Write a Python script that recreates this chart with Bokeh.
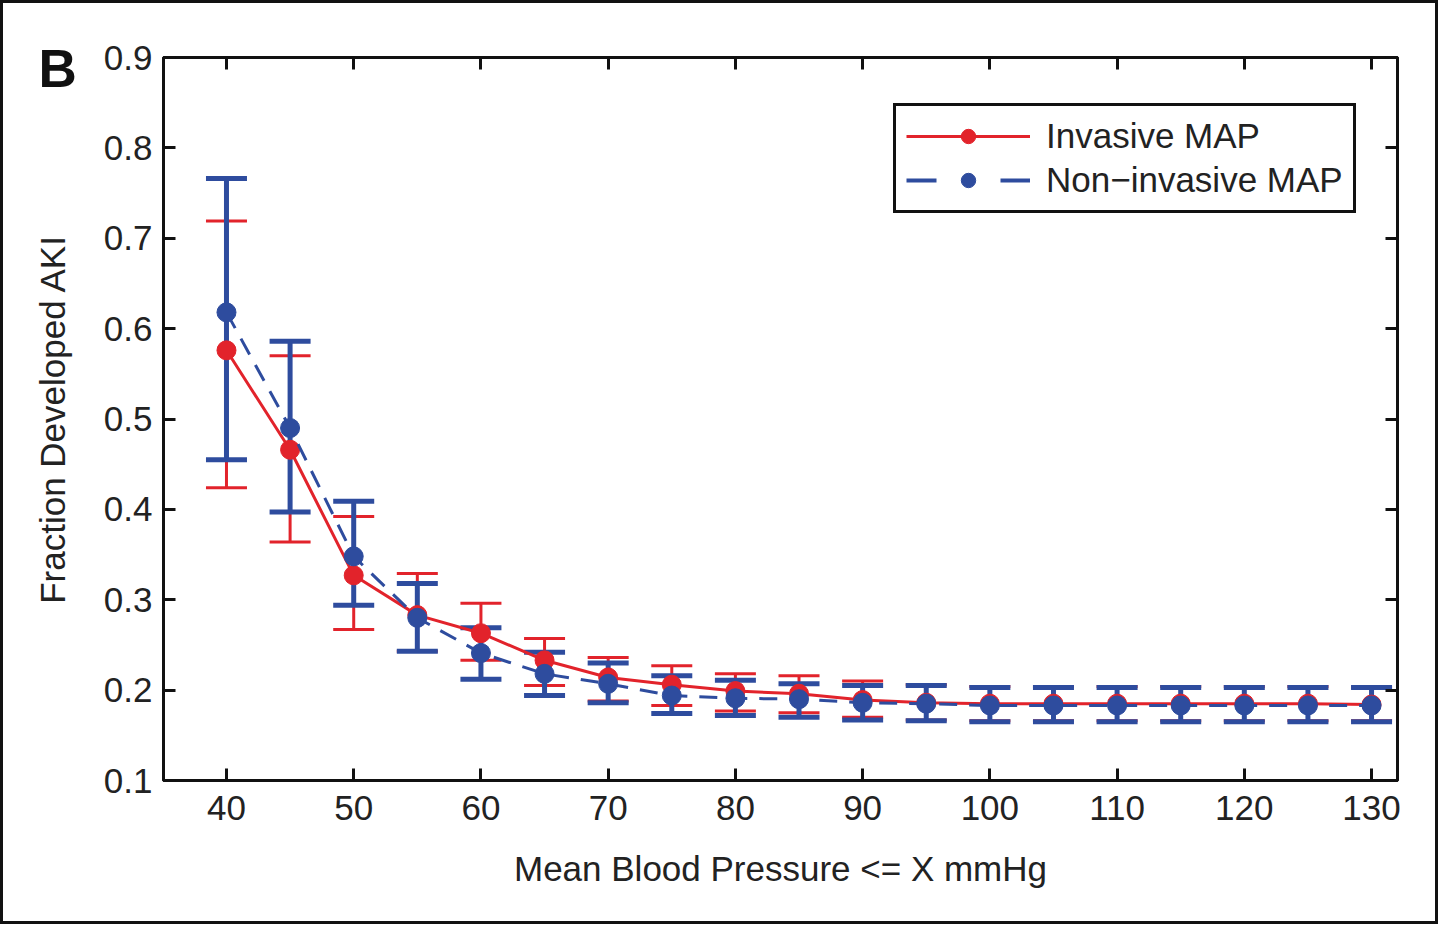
from bokeh.plotting import figure
from bokeh.models import (ColumnDataSource, Whisker, TeeHead, LinearAxis, FixedTicker,
                          PrintfTickFormatter, Legend, LegendItem, Label, Range1d)
from bokeh.embed import file_html
from bokeh.resources import INLINE

# ---- data ----
map_x = [40, 45, 50, 55, 60, 65, 70, 75, 80, 85, 90, 95, 100, 105, 110, 115, 120, 125, 130]
inv_mean = [0.576, 0.466, 0.327, 0.283, 0.263, 0.233, 0.214, 0.206, 0.199, 0.196, 0.189,
            0.186, 0.185, 0.185, 0.185, 0.185, 0.185, 0.185, 0.184]
inv_upper = [0.719, 0.570, 0.392, 0.329, 0.296, 0.257, 0.236, 0.227, 0.218, 0.216, 0.210,
             0.206, 0.204, 0.204, 0.204, 0.204, 0.204, 0.204, 0.203]
inv_lower = [0.424, 0.364, 0.267, 0.243, 0.233, 0.205, 0.188, 0.183, 0.177, 0.175, 0.170,
             0.167, 0.166, 0.166, 0.166, 0.166, 0.166, 0.166, 0.166]
non_mean = [0.618, 0.490, 0.348, 0.280, 0.241, 0.218, 0.207, 0.194, 0.191, 0.190, 0.186,
            0.185, 0.183, 0.183, 0.183, 0.183, 0.183, 0.183, 0.183]
non_upper = [0.766, 0.586, 0.409, 0.318, 0.269, 0.242, 0.230, 0.216, 0.211, 0.207, 0.205,
             0.205, 0.203, 0.203, 0.203, 0.203, 0.203, 0.203, 0.203]
non_lower = [0.455, 0.397, 0.294, 0.243, 0.212, 0.194, 0.186, 0.174, 0.172, 0.170, 0.167,
             0.166, 0.165, 0.165, 0.165, 0.165, 0.165, 0.165, 0.165]
x_ticks = [40, 50, 60, 70, 80, 90, 100, 110, 120, 130]
y_ticks = [0.1, 0.2, 0.3, 0.4, 0.5, 0.6, 0.7, 0.8, 0.9]
series_names = ["Invasive MAP", "Non\u2212invasive MAP"]
x_label = "Mean Blood Pressure <= X mmHg"
y_label = "Fraction Developed AKI"
panel_label = "B"

RED = "#e2232b"
BLUE = "#2e4c9e"
FONT = "Liberation Sans"
FS = "35px"

inv = ColumnDataSource(dict(x=map_x, y=inv_mean, up=inv_upper, lo=inv_lower))
non = ColumnDataSource(dict(x=map_x, y=non_mean, up=non_upper, lo=non_lower))

p = figure(width=1438, height=924, output_backend="svg", toolbar_location=None,
           x_range=Range1d(35.05, 132.04), y_range=Range1d(0.1, 0.9),
           min_border_left=160, min_border_right=44, min_border_top=54, min_border_bottom=147,
           background_fill_color="white", border_fill_color="white")
p.styles = {"border": "3px solid #111"}
p.xgrid.visible = False
p.ygrid.visible = False
p.outline_line_color = "#111"
p.outline_line_width = 3

# red error bars
p.add_layout(Whisker(source=inv, base="x", upper="up", lower="lo",
                     line_color=RED, line_width=3,
                     upper_head=TeeHead(size=41, line_color=RED, line_width=3),
                     lower_head=TeeHead(size=41, line_color=RED, line_width=3)))
red_line = p.line("x", "y", source=inv, line_color=RED, line_width=3)
# blue error bars
p.add_layout(Whisker(source=non, base="x", upper="up", lower="lo",
                     line_color=BLUE, line_width=5,
                     upper_head=TeeHead(size=41, line_color=BLUE, line_width=5),
                     lower_head=TeeHead(size=41, line_color=BLUE, line_width=5)))
red_pts = p.scatter("x", "y", source=inv, size=19, fill_color=RED, line_color=RED)
blue_line = p.line("x", "y", source=non, line_color=BLUE, line_width=3, line_dash="18 12")
blue_pts = p.scatter("x", "y", source=non, size=19, fill_color=BLUE, line_color=BLUE)

# legend-only renderers (a single NaN point: draws nothing in the plot)
nan_src = ColumnDataSource(dict(x=[float("nan")], y=[float("nan")]))
lg_r_line = p.line("x", "y", source=nan_src, line_color=RED, line_width=3)
lg_r_pt = p.scatter("x", "y", source=nan_src, size=19, fill_color=RED, line_color=RED)
lg_b_line = p.line("x", "y", source=nan_src, line_color=BLUE, line_width=4, line_dash="30 64")
lg_b_pt = p.scatter("x", "y", source=nan_src, size=19, fill_color=BLUE, line_color=BLUE)

legend = Legend(items=[LegendItem(label=series_names[0], renderers=[lg_r_line, lg_r_pt]),
                       LegendItem(label=series_names[1], renderers=[lg_b_line, lg_b_pt])],
                location=(730, 567), border_line_color="#111", border_line_width=3,
                border_line_alpha=1.0,
                label_text_font=FONT, label_text_font_size=FS, label_text_color="#222",
                glyph_width=124, glyph_height=36, label_standoff=16, spacing=4,
                padding=10, margin=0, background_fill_alpha=1)
p.add_layout(legend)

# axes
for ax in (p.xaxis[0], p.yaxis[0]):
    ax.axis_line_width = 3
    ax.axis_line_color = "#111"
    ax.major_tick_in = 12
    ax.major_tick_out = 0
    ax.major_tick_line_width = 3
    ax.major_tick_line_color = "#111"
    ax.minor_tick_line_color = None
    ax.major_label_text_font = FONT
    ax.major_label_text_font_size = FS
    ax.major_label_text_color = "#222"
    ax.axis_label_text_font = FONT
    ax.axis_label_text_font_size = FS
    ax.axis_label_text_font_style = "normal"
    ax.axis_label_text_color = "#222"

p.xaxis[0].ticker = FixedTicker(ticks=x_ticks)
p.yaxis[0].ticker = FixedTicker(ticks=y_ticks)
p.yaxis[0].formatter = PrintfTickFormatter(format="%.1f")
p.xaxis[0].axis_label = x_label
p.yaxis[0].axis_label = y_label
p.xaxis[0].major_label_standoff = 15
p.yaxis[0].major_label_standoff = 11
p.xaxis[0].axis_label_standoff = 26
p.yaxis[0].axis_label_standoff = 29

# box axes on top and right: ticks only, no labels drawn
top = LinearAxis(ticker=FixedTicker(ticks=x_ticks), major_label_text_font_size="0px",
                 major_label_text_color=None)
right = LinearAxis(ticker=FixedTicker(ticks=y_ticks), major_label_text_font_size="0px",
                   major_label_text_color=None)
for ax in (top, right):
    ax.axis_line_width = 3
    ax.axis_line_color = "#111"
    ax.major_tick_in = 12
    ax.major_tick_out = 0
    ax.major_tick_line_width = 3
    ax.major_tick_line_color = "#111"
    ax.minor_tick_line_color = None
    ax.major_label_standoff = 0
p.add_layout(top, "above")
p.add_layout(right, "right")

# panel letter, placed in a side panel so it is not clipped to the frame
p.add_layout(Label(x=32, y=62, x_units="canvas", y_units="canvas", text=panel_label,
                   text_font=FONT, text_font_size="53px", text_font_style="bold",
                   text_color="#111", text_baseline="alphabetic", text_align="left"),
             "right")

open("out.html", "w").write(file_html(p, INLINE))
